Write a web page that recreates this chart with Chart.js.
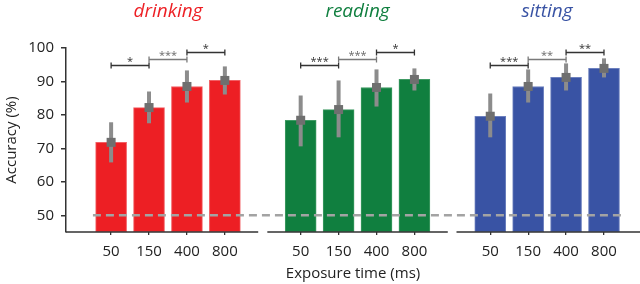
<!DOCTYPE html>
<html>
<head>
<meta charset="utf-8">
<script src="https://cdn.jsdelivr.net/npm/chart.js@4.4.0/dist/chart.umd.min.js"></script>
<style>
  body { margin: 0; background: #fff; }
  #wrap { width: 640px; height: 284px; position: relative; }
</style>
</head>
<body>
<div id="wrap"><canvas id="myChart"></canvas></div>
<script>
// values
const exposureLabels = ['50', '150', '400', '800'];
const panelTitles = ['drinking', 'reading', 'sitting'];
const panelColors = ['#ED1F24', '#107F3F', '#3953A4'];
const panelBorders = ['#F26065', '#3F9A63', '#6C80BE'];

const drinkingAcc = [71.8, 82.2, 88.5, 90.3];
const readingAcc = [78.4, 81.6, 88.2, 90.6];
const sittingAcc = [79.6, 88.5, 91.2, 93.9];

const drinkingLow = [65.8, 77.5, 83.7, 86.1];
const drinkingHigh = [77.8, 87.0, 93.3, 94.5];
const readingLow = [70.6, 73.3, 82.5, 87.3];
const readingHigh = [85.8, 90.3, 93.6, 93.9];
const sittingLow = [73.3, 83.7, 87.3, 91.2];
const sittingHigh = [86.4, 93.6, 95.4, 96.9];

const drinkingStars = ['*', '***', '*'];
const readingStars = ['***', '***', '*'];
const sittingStars = ['***', '**', '**'];
const bracketLevels = [95, 96.8, 98.9];

const chanceLevel = 50;
const yTicks = [50, 60, 70, 80, 90, 100];

const accs = [drinkingAcc, readingAcc, sittingAcc];
const lows = [drinkingLow, readingLow, sittingLow];
const highs = [drinkingHigh, readingHigh, sittingHigh];
const stars = [drinkingStars, readingStars, sittingStars];

// each panel takes 4 slots, one empty slot between panels
var points = [];
var barColors = [];
var barBorders = [];
var tickPos = [];
var tickText = {};
accs.forEach((vals, p) => {
    vals.forEach((v, i) => {
        const xi = p * 5 + i;
        points.push({x: xi, y: v, lo: lows[p][i], hi: highs[p][i]});
        barColors.push(panelColors[p]);
        barBorders.push(panelBorders[p]);
        tickPos.push(xi);
        tickText[xi] = exposureLabels[i];
    });
});

const overlay = {
    id: 'overlay',
    afterDatasetsDraw(chart) {
        const ctx = chart.ctx;
        const x = chart.scales.x, y = chart.scales.y;
        ctx.save();

        // chance line
        ctx.strokeStyle = '#a3a3a3';
        ctx.lineWidth = 2.5;
        ctx.setLineDash([8, 5]);
        ctx.beginPath();
        ctx.moveTo(x.getPixelForValue(-0.48), y.getPixelForValue(chanceLevel));
        ctx.lineTo(x.getPixelForValue(13.5), y.getPixelForValue(chanceLevel));
        ctx.stroke();
        ctx.setLineDash([]);

        // error bars + markers
        points.forEach(pt => {
            const px = x.getPixelForValue(pt.x);
            ctx.strokeStyle = '#8c8c8c';
            ctx.lineWidth = 4;
            ctx.beginPath();
            ctx.moveTo(px, y.getPixelForValue(pt.lo));
            ctx.lineTo(px, y.getPixelForValue(pt.hi));
            ctx.stroke();
            ctx.fillStyle = '#6f6f6f';
            ctx.fillRect(px - 4.5, y.getPixelForValue(pt.y) - 4.5, 9, 9);
        });

        // significance brackets
        stars.forEach((row, p) => {
            row.forEach((s, k) => {
                const x1 = x.getPixelForValue(p * 5 + k);
                const x2 = x.getPixelForValue(p * 5 + k + 1);
                const py = Math.round(y.getPixelForValue(bracketLevels[k])) + 0.5;
                ctx.strokeStyle = k == 1 ? '#7a7a7a' : '#333';
                ctx.lineWidth = 1.3;
                ctx.beginPath();
                ctx.moveTo(x1, py); ctx.lineTo(x2, py);
                ctx.moveTo(x1, py - 3); ctx.lineTo(x1, py + 3);
                ctx.moveTo(x2, py - 3); ctx.lineTo(x2, py + 3);
                ctx.stroke();
                ctx.fillStyle = k == 1 ? '#6a6a6a' : '#333';
                ctx.font = '11px "Open Sans"';
                ctx.textAlign = 'center';
                ctx.textBaseline = 'middle';
                ctx.fillText(s, (x1 + x2) / 2, py - 4);
            });
        });

        // panel titles
        panelTitles.forEach((t, p) => {
            ctx.fillStyle = panelColors[p];
            ctx.font = 'italic 19px "Open Sans"';
            ctx.textAlign = 'center';
            ctx.textBaseline = 'middle';
            ctx.fillText(t, x.getPixelForValue(p * 5 + 1.5), 12);
        });
        ctx.restore();
    },
    afterDraw(chart) {
        // broken x baseline, one piece per panel
        const ctx = chart.ctx;
        const x = chart.scales.x;
        const by = chart.chartArea.bottom;
        const pieces = [[-1.19, 3.88], [4.12, 8.88], [9.11, 13.95]];
        ctx.save();
        ctx.strokeStyle = '#333';
        ctx.lineWidth = 1.5;
        ctx.beginPath();
        pieces.forEach(pc => {
            ctx.moveTo(x.getPixelForValue(pc[0]), by);
            ctx.lineTo(x.getPixelForValue(pc[1]), by);
        });
        ctx.stroke();
        ctx.restore();
    }
};

let chart = document.getElementById('myChart').getContext('2d');

let accChart = new Chart(chart, {
    type: 'bar',
    data: {
        datasets: [
            {
                data: points,
                base: 45,
                backgroundColor: barColors,
                borderColor: barBorders,
                borderWidth: 1,
                borderSkipped: false,
                barThickness: 31
            }
        ]
    },
    options: {
        responsive: true,
        maintainAspectRatio: false,
        animation: false,
        layout: {padding: {top: 48, right: 0, left: 0, bottom: 0}},
        plugins: {legend: {display: false}, tooltip: {enabled: false}},
        scales: {
            x: {
                type: 'linear',
                offset: false,
                min: -1.19,
                max: 13.95,
                afterBuildTicks: s => { s.ticks = tickPos.map(v => ({value: v})); },
                afterFit: s => { s.height = 52; },
                grid: {drawOnChartArea: false, offset: false, tickLength: 3, color: '#333', lineWidth: 1.3},
                border: {display: false},
                ticks: {
                    autoSkip: false,
                    maxRotation: 0,
                    padding: 8,
                    color: '#222',
                    font: {family: 'Open Sans', size: 15},
                    callback: v => tickText[v]
                },
                title: {
                    display: true,
                    text: 'Exposure time (ms)',
                    color: '#222',
                    font: {family: 'Open Sans', size: 15},
                    padding: {top: 0, bottom: 1}
                }
            },
            y: {
                min: 45,
                max: 100,
                afterBuildTicks: s => { s.ticks = yTicks.map(v => ({value: v})); },
                afterFit: s => { s.width = 66; },
                grid: {drawOnChartArea: false, tickLength: 5, color: '#333', lineWidth: 1.5},
                border: {display: true, color: '#333', width: 1.5},
                ticks: {
                    padding: 7,
                    color: '#222',
                    font: {family: 'Open Sans', size: 15}
                },
                title: {
                    display: true,
                    text: 'Accuracy (%)',
                    color: '#222',
                    font: {family: 'Open Sans', size: 15},
                    padding: {top: 3, bottom: 0}
                }
            }
        }
    },
    plugins: [overlay]
});
</script>
</body>
</html>
